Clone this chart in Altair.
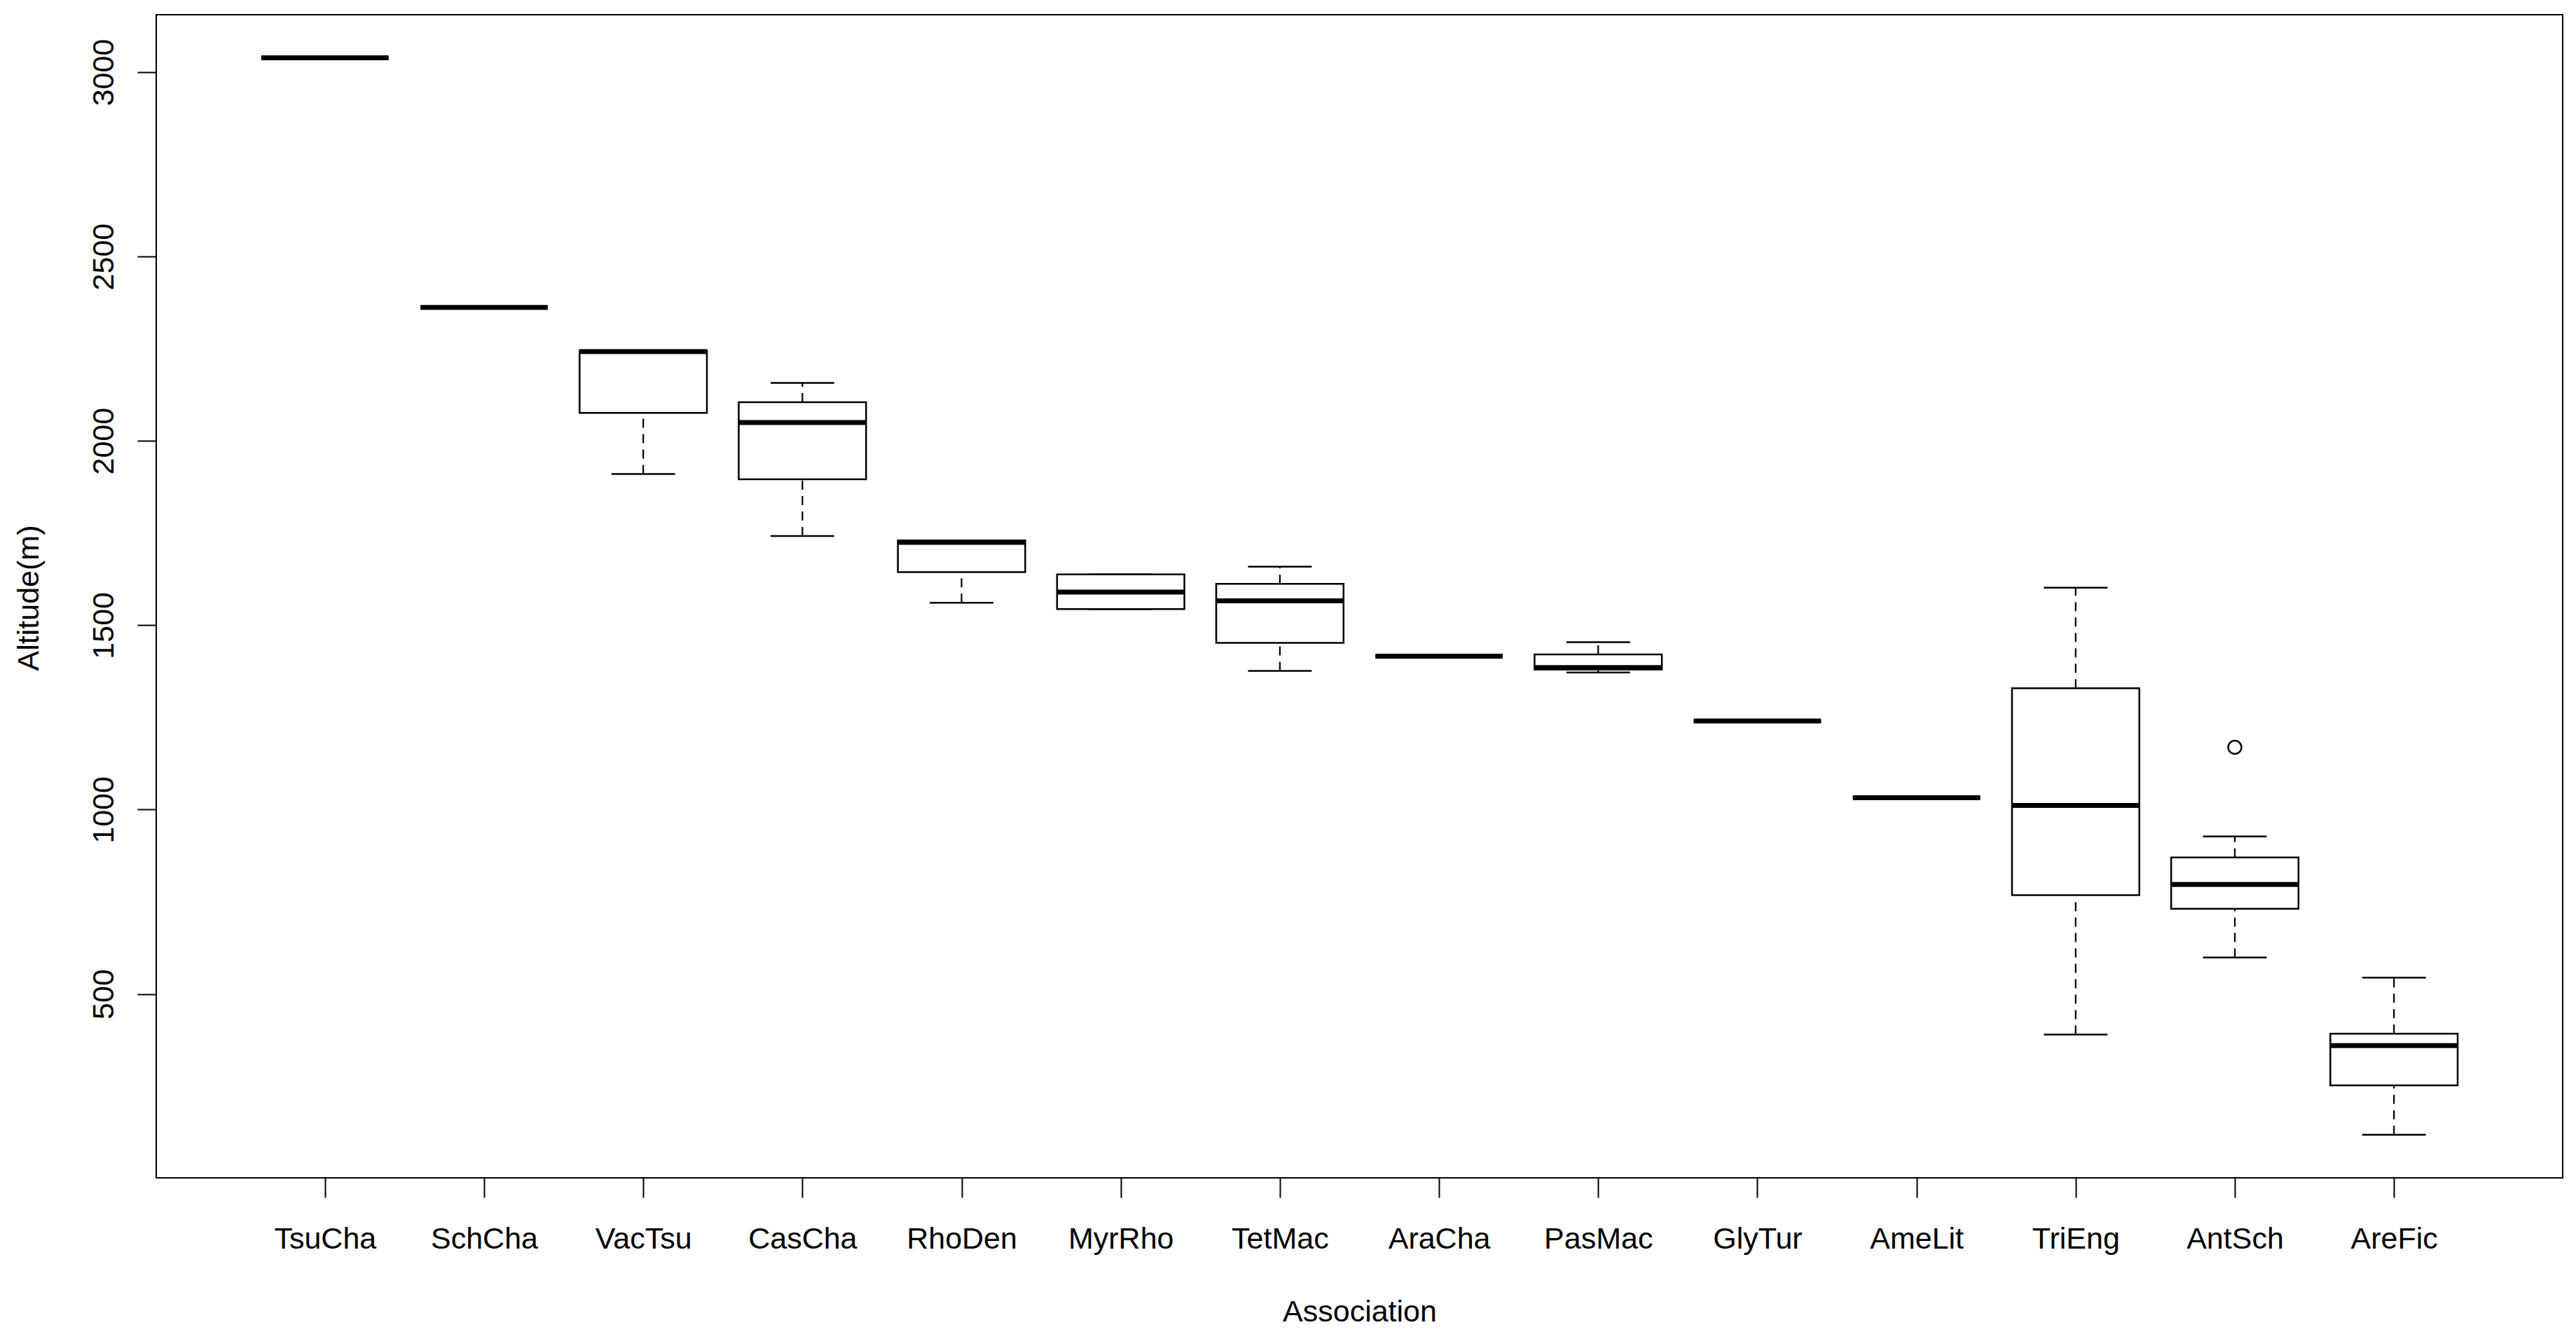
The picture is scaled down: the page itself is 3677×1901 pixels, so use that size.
import altair as alt
import pandas as pd

names = ["TsuCha", "SchCha", "VacTsu", "CasCha", "RhoDen", "MyrRho", "TetMac",
         "AraCha", "PasMac", "GlyTur", "AmeLit", "TriEng", "AntSch", "AreFic"]
lower = [3039, 2362, 1910, 1742, 1561, 1544, 1376, 1416, 1372, 1240, 1032, 390, 599, 118]
q1 = [3039, 2362, 2076, 1896, 1644, 1544, 1452, 1416, 1380, 1240, 1032, 768, 731, 252]
median = [3039, 2362, 2242, 2050, 1725, 1590, 1566, 1416, 1385, 1240, 1032, 1011, 797, 360]
q3 = [3039, 2362, 2245, 2105, 1730, 1638, 1612, 1416, 1421, 1240, 1032, 1329, 870, 392]
upper = [3039, 2362, 2245, 2157, 1730, 1638, 1659, 1416, 1454, 1240, 1032, 1602, 927, 544]
outlier_group = ["AntSch"]
outlier_value = [1169]
y_ticks = [500, 1000, 1500, 2000, 2500, 3000]

df = pd.DataFrame({
    "name": names,
    "pos": list(range(1, len(names) + 1)),
    "lower": lower, "q1": q1, "median": median, "q3": q3, "upper": upper,
})
out_df = pd.DataFrame({
    "name": outlier_group,
    "pos": [names.index(n) + 1 for n in outlier_group],
    "value": outlier_value,
})

n = len(names)
xdom = [0.5 - 0.04 * n, n + 0.5 + 0.04 * n]
vmin = min(lower + outlier_value)
vmax = max(upper + outlier_value)
r = vmax - vmin
ydom = [vmin - 0.04 * r, vmax + 0.04 * r]

FONT = "Liberation Sans"
label_expr = "[" + ",".join("'%s'" % s for s in names) + "][datum.value - 1]"

xscale = alt.Scale(domain=xdom, nice=False, zero=False)
yscale = alt.Scale(domain=ydom, nice=False, zero=False)

xaxis = alt.Axis(values=list(range(1, n + 1)), labelExpr=label_expr,
                 title="Association", tickSize=28, labelPadding=72,
                 labelBaseline="alphabetic", titleBaseline="alphabetic",
                 titleY=204, labelAngle=0)
yaxis = alt.Axis(values=y_ticks, format="d", title="Altitude(m)", tickSize=27,
                 labelAngle=270, labelAlign="center", labelBaseline="alphabetic",
                 labelPadding=35, titleAngle=270, titleBaseline="alphabetic",
                 titleAlign="center", titleX=-169, titleY=832)

base = alt.Chart(df).transform_calculate(
    blo="datum.pos - 0.4", bhi="datum.pos + 0.4",
    slo="datum.pos - 0.2", shi="datum.pos + 0.2",
)

X = alt.X("pos:Q", scale=xscale, axis=xaxis)

whisk_lo = base.mark_rule(color="black", strokeWidth=2.2, strokeDash=[13, 9]).encode(
    x=X, y=alt.Y("lower:Q", scale=yscale, axis=yaxis), y2="q1:Q")
whisk_hi = base.mark_rule(color="black", strokeWidth=2.2, strokeDash=[13, 9]).encode(
    x=X, y=alt.Y("q3:Q", scale=yscale), y2="upper:Q")
staple_lo = base.mark_rule(color="black", strokeWidth=2.5).encode(
    x=alt.X("slo:Q", scale=xscale), x2="shi:Q", y=alt.Y("lower:Q", scale=yscale))
staple_hi = base.mark_rule(color="black", strokeWidth=2.5).encode(
    x=alt.X("slo:Q", scale=xscale), x2="shi:Q", y=alt.Y("upper:Q", scale=yscale))
boxes = base.mark_rect(fill="white", stroke="black", strokeWidth=2.5).encode(
    x=alt.X("blo:Q", scale=xscale), x2="bhi:Q",
    y=alt.Y("q1:Q", scale=yscale), y2="q3:Q")
medians = base.mark_rule(color="black", strokeWidth=7).encode(
    x=alt.X("blo:Q", scale=xscale), x2="bhi:Q", y=alt.Y("median:Q", scale=yscale))
outliers = alt.Chart(out_df).mark_point(shape="circle", filled=False, color="black",
                                        strokeWidth=2.5, size=360, opacity=1).encode(
    x=alt.X("pos:Q", scale=xscale), y=alt.Y("value:Q", scale=yscale))

chart = alt.layer(whisk_lo, whisk_hi, staple_lo, staple_hi, boxes, medians, outliers).properties(
    width=3435, height=1660,
    autosize=alt.AutoSizeParams(type="none"),
    padding={"left": 215, "top": 13, "right": 11, "bottom": 218},
    background="white",
).configure_view(
    stroke="black", strokeWidth=2
).configure_axis(
    grid=False, domain=False, tickColor="black", tickWidth=2,
    labelColor="black", titleColor="black",
    labelFont=FONT, titleFont=FONT, labelFontSize=43, titleFontSize=43,
    titleFontWeight="normal",
)

chart.save("out.html", embed_options={"renderer": "svg", "actions": False})
